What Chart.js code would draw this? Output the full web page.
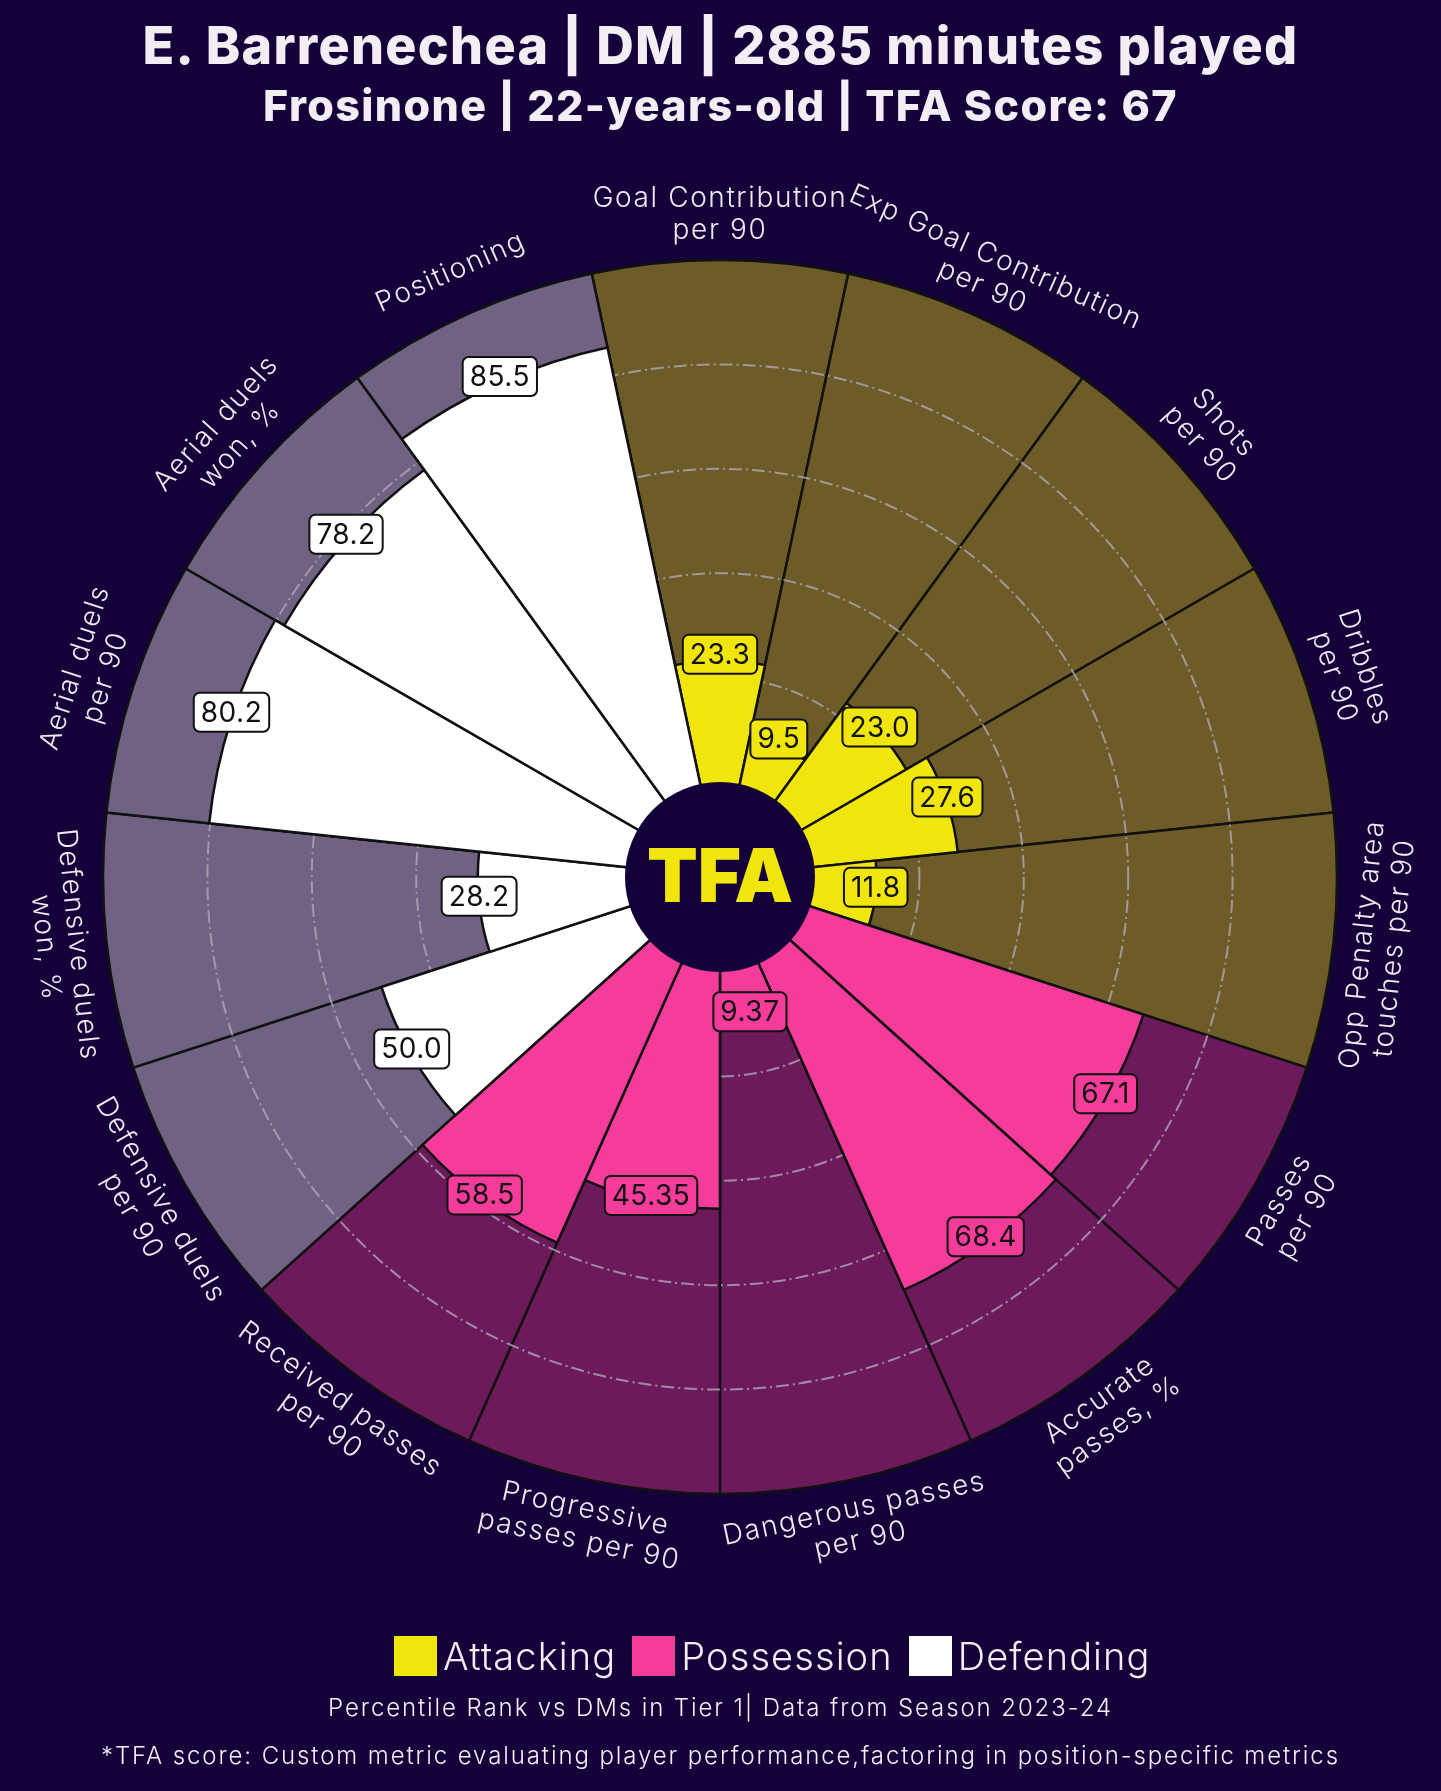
<!DOCTYPE html>
<html>
<head>
<meta charset="utf-8">
<script src="https://cdn.jsdelivr.net/npm/chart.js@4.4.1/dist/chart.umd.min.js"></script>
<style>
  html, body { margin: 0; padding: 0; background: #13023a; }
  #wrap { position: relative; width: 1441px; height: 1791px; overflow: hidden; font-family: Inter, "Open Sans", sans-serif; color: #f4eef4; }
  #pizza { position: absolute; left: 0; top: 0; }
  .titre { position: absolute; left: 0; width: 1441px; text-align: center; font-weight: 800; white-space: nowrap; }
  #titre1 { top: 14px; font-size: 52px; line-height: 64px; letter-spacing: 1.3px; }
  #titre2 { top: 80px; font-size: 43px; line-height: 50px; letter-spacing: 1.4px; }
  #legende { position: absolute; left: 394px; top: 1634px; height: 44px; display: flex; align-items: center; font-size: 38px; font-weight: 300; letter-spacing: 1.1px; }
  .item { display: flex; align-items: center; margin-right: 16px; }
  .carre { width: 43px; height: 40px; margin-right: 6px; }
  .note { position: absolute; left: 0; width: 1441px; text-align: center; font-size: 24px; font-weight: 300; line-height: 30px; white-space: nowrap; letter-spacing: 1.9px; }
</style>
</head>
<body>
<div id="wrap">
  <canvas id="pizza" width="1441" height="1791"></canvas>
  <div class="titre" id="titre1">E. Barrenechea | DM | 2885 minutes played</div>
  <div class="titre" id="titre2">Frosinone | 22-years-old | TFA Score: 67</div>
  <div id="legende"></div>
  <div class="note" style="top:1693px">Percentile Rank vs DMs in Tier 1| Data from Season 2023-24</div>
  <div class="note" style="top:1741px">*TFA score: Custom metric evaluating player performance,factoring in position-specific metrics</div>
</div>
<script>
// categories, clockwise from the top
const categories = [
  ["Goal Contribution", "per 90"],
  ["Exp Goal Contribution", "per 90"],
  ["Shots", "per 90"],
  ["Dribbles", "per 90"],
  ["Opp Penalty area", "touches per 90"],
  ["Passes", "per 90"],
  ["Accurate", "passes, %"],
  ["Dangerous passes", "per 90"],
  ["Progressive", "passes per 90"],
  ["Received passes", "per 90"],
  ["Defensive duels", "per 90"],
  ["Defensive duels", "won, %"],
  ["Aerial duels", "per 90"],
  ["Aerial duels", "won, %"],
  ["Positioning"]
];
const percentiles = [23.3, 9.5, 23.0, 27.6, 11.8, 67.1, 68.4, 9.37, 45.35, 58.5, 50.0, 28.2, 80.2, 78.2, 85.5];
const plafond = [100, 100, 100, 100, 100, 100, 100, 100, 100, 100, 100, 100, 100, 100, 100];
const groupe = [0, 0, 0, 0, 0, 1, 1, 1, 1, 1, 2, 2, 2, 2, 2];
const groupes = ["Attacking", "Possession", "Defending"];
const grille = [20, 40, 60, 80];

const couleursBarre = ["#f0e50c", "#f63c9b", "#ffffff"];
const couleursFond = ["#6d5b28", "#6c1a5c", "#6f6283"];
const fondPage = "#13023a";

// legende
const legende = document.getElementById("legende");
groupes.forEach((nom, g) => {
  legende.innerHTML += `<div class="item"><div class="carre" style="background:${couleursBarre[g]}"></div>${nom}</div>`;
});

function formatValeur(v) {
  return Math.abs(v * 10 - Math.round(v * 10)) < 1e-6 ? v.toFixed(1) : v.toFixed(2);
}

const pizzaPlugin = {
  id: "pizza",
  // grille pointillee au-dessus des fonds, sous les barres
  beforeDatasetDraw(chart, args) {
    if (args.index !== 0) return;
    const scale = chart.scales.r;
    const ctx = chart.ctx;
    ctx.save();
    ctx.strokeStyle = "rgba(175,168,180,0.8)";
    ctx.lineWidth = 2;
    ctx.setLineDash([13, 4, 2, 4]);
    grille.forEach(v => {
      ctx.beginPath();
      ctx.arc(scale.xCenter, scale.yCenter, scale.getDistanceFromCenterForValue(v), 0, Math.PI * 2);
      ctx.stroke();
    });
    ctx.restore();
  },
  afterDatasetsDraw(chart) {
    const scale = chart.scales.r;
    const ctx = chart.ctx;
    const cx = scale.xCenter, cy = scale.yCenter;
    const arcs = chart.getDatasetMeta(0).data;

    // cercle central
    ctx.save();
    ctx.fillStyle = fondPage;
    ctx.beginPath();
    ctx.arc(cx, cy, scale.getDistanceFromCenterForValue(0), 0, Math.PI * 2);
    ctx.fill();
    ctx.fillStyle = couleursBarre[0];
    ctx.font = "900 74px Inter, sans-serif";
    ctx.textAlign = "center";
    ctx.textBaseline = "middle";
    ctx.fillText("TFA", cx, cy + 3);
    ctx.restore();

    // etiquettes des valeurs
    ctx.save();
    ctx.font = "28px Inter, sans-serif";
    ctx.letterSpacing = "0.5px";
    ctx.textAlign = "center";
    ctx.textBaseline = "middle";
    arcs.forEach((arc, i) => {
      const mid = (arc.startAngle + arc.endAngle) / 2;
      const x = cx + Math.cos(mid) * arc.outerRadius;
      const y = cy + Math.sin(mid) * arc.outerRadius - 6;
      const txt = formatValeur(percentiles[i]);
      const w = ctx.measureText(txt).width + 14;
      const h = 39;
      ctx.beginPath();
      ctx.roundRect(x - w / 2, y - h / 2, w, h, 6);
      ctx.fillStyle = couleursBarre[groupe[i]];
      ctx.fill();
      ctx.lineWidth = 2;
      ctx.strokeStyle = "#111111";
      ctx.stroke();
      ctx.fillStyle = "#111111";
      ctx.fillText(txt, x, y + 1);
    });
    ctx.restore();

    // noms des categories, tournes le long du cercle
    ctx.save();
    ctx.font = "300 28px Inter, sans-serif";
    ctx.letterSpacing = "1.6px";
    ctx.fillStyle = "#f0e8f0";
    ctx.textAlign = "center";
    ctx.textBaseline = "middle";
    const rLabel = scale.drawingArea + 45;
    arcs.forEach((arc, i) => {
      const mid = (arc.startAngle + arc.endAngle) / 2;
      const x = cx + Math.cos(mid) * rLabel;
      const y = cy + Math.sin(mid) * rLabel;
      let theta = mid + Math.PI / 2;
      theta = ((theta % (2 * Math.PI)) + 2 * Math.PI) % (2 * Math.PI);
      const rot = (theta > Math.PI / 2 && theta < Math.PI * 1.5) ? theta - Math.PI : theta;
      const lignes = chart.data.labels[i];
      ctx.save();
      ctx.translate(x, y);
      ctx.rotate(rot);
      lignes.forEach((l, k) => {
        ctx.fillText(l, 0, (k - (lignes.length - 1) / 2) * 32);
      });
      ctx.restore();
    });
    ctx.restore();
  }
};

new Chart(document.getElementById("pizza"), {
  type: "polarArea",
  data: {
    labels: categories,
    datasets: [
      {
        label: "Percentile",
        data: percentiles,
        backgroundColor: groupe.map(g => couleursBarre[g]),
        borderColor: "#111111",
        borderWidth: 2.5
      },
      {
        label: "Max",
        data: plafond,
        backgroundColor: groupe.map(g => couleursFond[g]),
        borderColor: "#111111",
        borderWidth: 2.5
      }
    ]
  },
  options: {
    responsive: false,
    animation: false,
    events: [],
    layout: { padding: { left: 103, right: 104, top: 260, bottom: 297 } },
    plugins: {
      legend: { display: false },
      tooltip: { enabled: false }
    },
    scales: {
      r: {
        // le zero tombe sur le bord du cercle central
        min: -18.2,
        max: 100,
        startAngle: -12,
        ticks: { display: false },
        grid: { display: false },
        angleLines: { display: false },
        pointLabels: { display: false }
      }
    }
  },
  plugins: [pizzaPlugin]
});
</script>
</body>
</html>
